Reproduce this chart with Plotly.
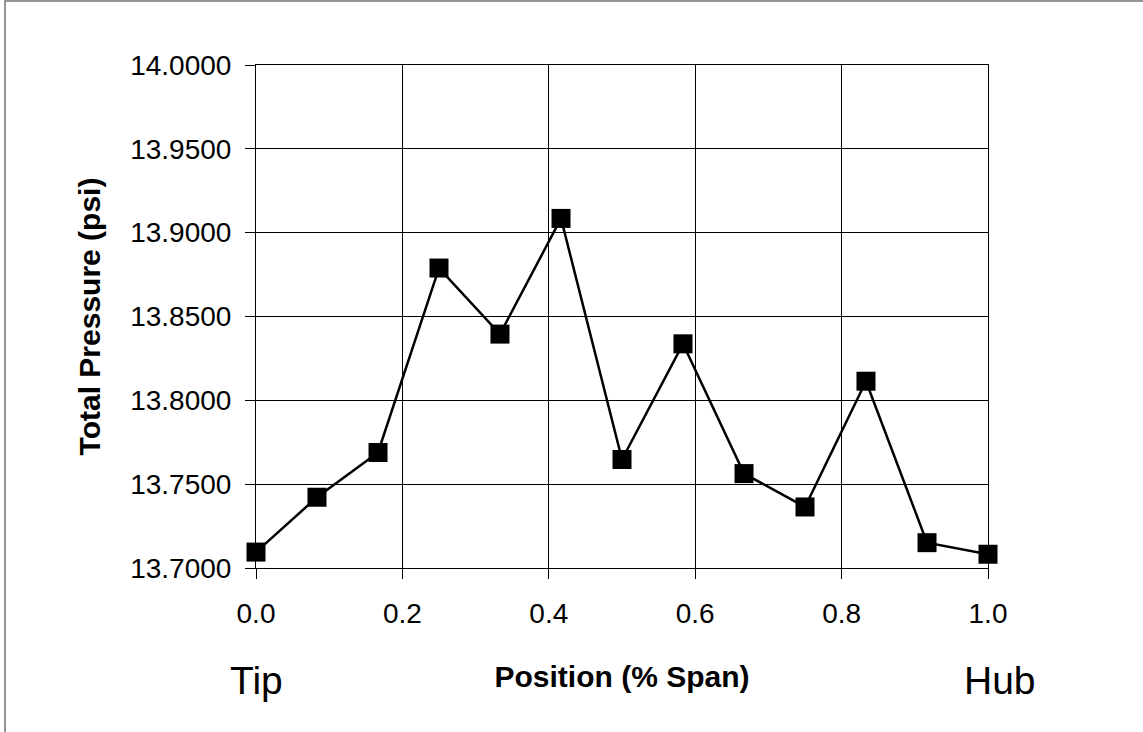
import plotly.graph_objects as go

# Span position (fraction of blade span, tip = 0, hub = 1)
span_position = [0.0, 0.0833, 0.1667, 0.25, 0.3333, 0.4167, 0.5,
                 0.5833, 0.6667, 0.75, 0.8333, 0.9167, 1.0]
# Measured total pressure at each span station (psi)
total_pressure = [13.7095, 13.7422, 13.7689, 13.8789, 13.8395, 13.9085, 13.7647,
                  13.8337, 13.7563, 13.7364, 13.8114, 13.7151, 13.7082]

x_ticks = [0.0, 0.2, 0.4, 0.6, 0.8, 1.0]
y_ticks = [13.70, 13.75, 13.80, 13.85, 13.90, 13.95, 14.00]

FONT = "Liberation Sans, Arial, sans-serif"

fig = go.Figure()
fig.add_trace(go.Scatter(
    x=span_position,
    y=total_pressure,
    mode="lines+markers",
    line=dict(color="#000000", width=2.5),
    marker=dict(symbol="square", size=19, color="#000000"),
    cliponaxis=False,
    showlegend=False,
))

W, H = 1143, 732
L, R, T, B = 256, 155, 65, 164

fig.update_layout(
    width=W, height=H,
    margin=dict(l=L, r=R, t=T, b=B, pad=0),
    paper_bgcolor="#ffffff",
    plot_bgcolor="#ffffff",
    font=dict(family=FONT, color="#000000"),
    xaxis=dict(
        range=[0, 1],
        tickvals=x_ticks,
        tickformat=".1f",
        ticks="outside", ticklen=10, tickwidth=1, tickcolor="#000000",
        showgrid=True, gridcolor="#000000", gridwidth=1,
        showline=True, linecolor="#000000", linewidth=1, mirror=True,
        zeroline=False,
        tickfont=dict(size=28, family=FONT),
        ticklabelstandoff=10,
        title=dict(text="<b>Position (% Span)</b>",
                   font=dict(size=30, family=FONT), standoff=38),
    ),
    yaxis=dict(
        range=[13.7, 14.0],
        tickvals=y_ticks,
        tickformat=".4f",
        ticks="outside", ticklen=10, tickwidth=1, tickcolor="#000000",
        showgrid=True, gridcolor="#000000", gridwidth=1,
        showline=True, linecolor="#000000", linewidth=1, mirror=True,
        zeroline=False,
        tickfont=dict(size=28, family=FONT),
        ticklabelstandoff=8,
        title=dict(text="<b>Total Pressure (psi)</b>",
                   font=dict(size=30, family=FONT), standoff=20),
    ),
)

# Tip / Hub end labels under the span axis
fig.add_annotation(text="Tip", x=0.0, y=-0.223, xref="paper", yref="paper",
                   xanchor="center", yanchor="middle", showarrow=False,
                   font=dict(size=39, family=FONT, color="#000000"))
fig.add_annotation(text="Hub", x=1.0164, y=-0.223, xref="paper", yref="paper",
                   xanchor="center", yanchor="middle", showarrow=False,
                   font=dict(size=39, family=FONT, color="#000000"))

# Outer chart frame (top and left edges fall inside the canvas)
pw, ph = W - L - R, H - T - B
def px_x(v):
    return (v - L) / pw
def px_y(v):
    return (H - B - v) / ph
fig.add_shape(type="rect", xref="paper", yref="paper",
              x0=px_x(5), x1=px_x(W + 20), y0=px_y(1), y1=px_y(H + 20),
              line=dict(color="#707070", width=1.5), fillcolor="rgba(0,0,0,0)",
              layer="below")

fig.write_html("out.html")
